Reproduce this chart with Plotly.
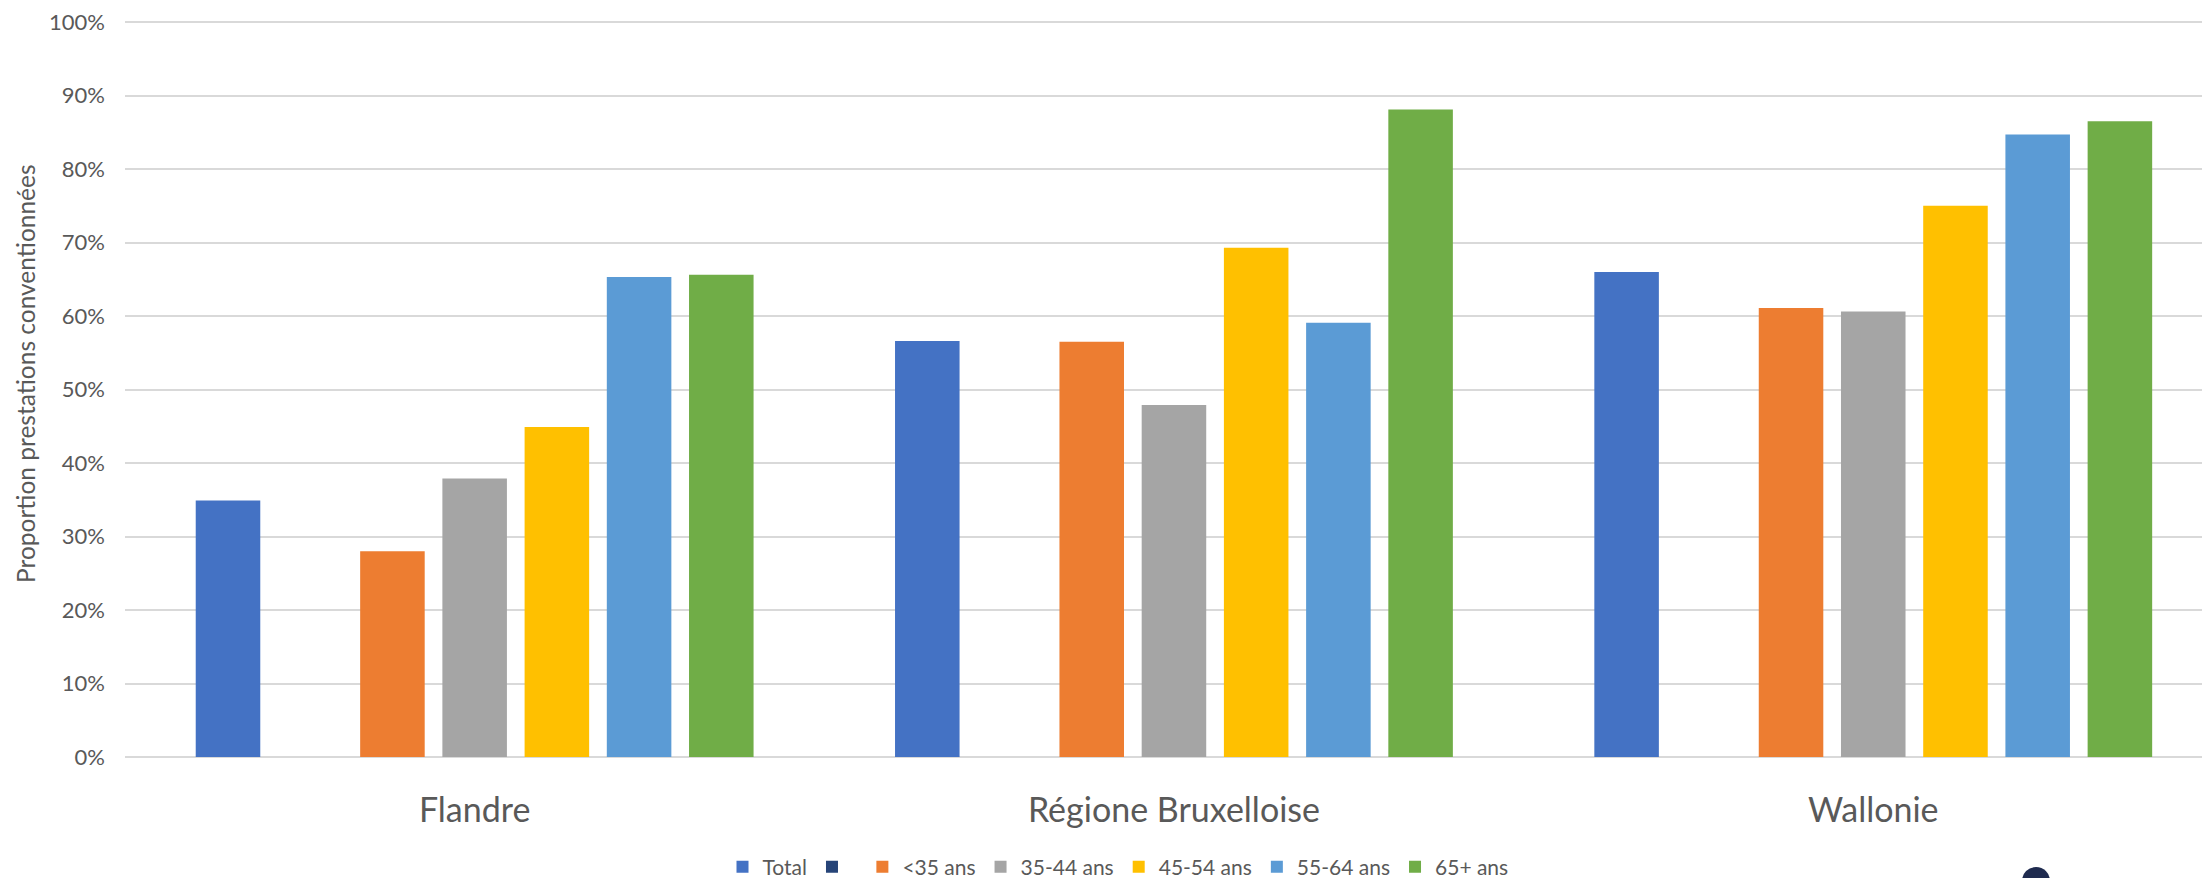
import plotly.graph_objects as go

categories = ["Flandre", "Régione Bruxelloise", "Wallonie"]
series_names = ["Total", " ", "<35 ans", "35-44 ans", "45-54 ans", "55-64 ans", "65+ ans"]
total = [0.349, 0.566, 0.660]
blank = [0, 0, 0]
lt35 = [0.280, 0.565, 0.611]
s35_44 = [0.379, 0.479, 0.606]
s45_54 = [0.449, 0.693, 0.750]
s55_64 = [0.653, 0.591, 0.847]
s65p = [0.656, 0.881, 0.865]
y_ticks = [0, 0.1, 0.2, 0.3, 0.4, 0.5, 0.6, 0.7, 0.8, 0.9, 1.0]
y_labels = ["0%", "10%", "20%", "30%", "40%", "50%", "60%", "70%", "80%", "90%", "100%"]

values = [total, blank, lt35, s35_44, s45_54, s55_64, s65p]
colors = ["#4472C4", "#264478", "#ED7D31", "#A5A5A5", "#FFC000", "#5B9BD5", "#70AD47"]

W, H = 2202, 878
ML, MR, MT, MB = 125, 0, 21, 121
pw = W - ML - MR
ph = H - MT - MB
YMAX = 1.0014

fig = go.Figure()
for name, vals, col in zip(series_names, values, colors):
    fig.add_trace(go.Bar(
        x=categories, y=vals, name=name,
        marker=dict(color=col, line=dict(width=0)),
        hoverinfo="skip",
    ))

TXT = "#595959"
fig.update_layout(
    width=W, height=H,
    margin=dict(l=ML, r=MR, t=MT, b=MB, pad=0, autoexpand=False),
    paper_bgcolor="white", plot_bgcolor="white",
    barmode="group", bargap=0.177, bargroupgap=0.215,
    font=dict(family="Lato", color=TXT),
    showlegend=True,
    legend=dict(
        orientation="h", xref="container", yref="container",
        x=1118 / W, xanchor="center", y=1 - 867 / H, yanchor="middle",
        font=dict(family="Lato", size=21, color=TXT),
        bgcolor="rgba(0,0,0,0)", traceorder="normal",
    ),
    xaxis=dict(
        range=[-0.5, -0.5 + pw / 699.3],
        showgrid=False, zeroline=False, showline=False, automargin=False,
        ticks="", tickfont=dict(family="Lato", size=34, color=TXT),
        ticklabelstandoff=30,
    ),
    yaxis=dict(
        range=[0, YMAX], tickvals=y_ticks, ticktext=y_labels, automargin=False,
        showgrid=True, gridcolor="#D9D9D9", gridwidth=2,
        zeroline=True, zerolinecolor="#D9D9D9", zerolinewidth=2,
        showline=False, ticks="",
        tickfont=dict(family="Lato", size=22, color=TXT),
        ticklabelstandoff=19,
    ),
)

fig.add_annotation(
    text="Proportion prestations conventionnées",
    xref="paper", yref="paper", x=(25 - ML) / pw, y=(757 - 374) / ph,
    xanchor="center", yanchor="middle", textangle=-90, showarrow=False,
    font=dict(family="Lato", size=24.5, color=TXT),
)

fig.add_shape(
    type="circle", xref="paper", yref="paper",
    xsizemode="pixel", ysizemode="pixel",
    xanchor=(2036 - ML) / pw, yanchor=(757 - 881) / ph,
    x0=-14, x1=14, y0=-14, y1=14,
    fillcolor="#1F2B4F", line=dict(width=0),
)

fig.write_html(
    "out.html",
    config={"displayModeBar": False},
    post_script="document.body.style.margin='0';document.body.style.overflow='hidden';",
)
